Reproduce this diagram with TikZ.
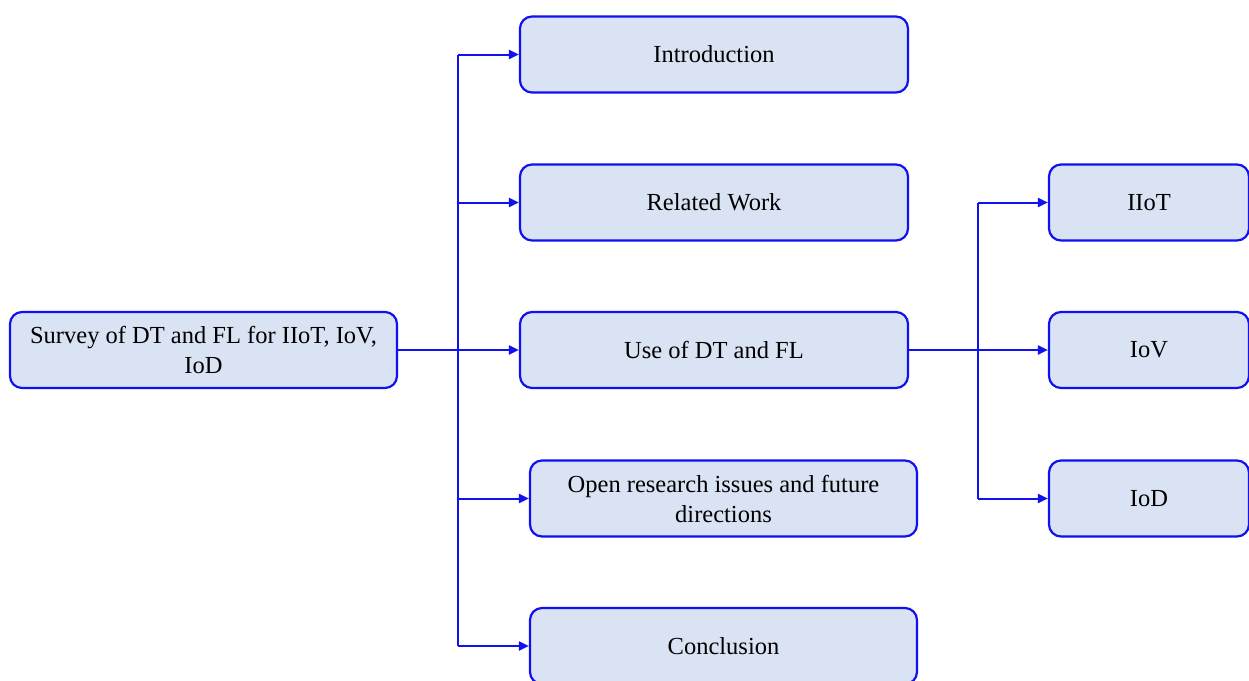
\documentclass[tikz,border=0pt]{standalone}
\usepackage{fontspec}
\setmainfont{Liberation Serif}
\usetikzlibrary{arrows.meta}
\definecolor{boxfill}{HTML}{DAE3F3}
\definecolor{boxline}{HTML}{1010F0}
\begin{document}
\begin{tikzpicture}[x=1pt,y=-1pt,
  box/.style={draw=boxline, fill=boxfill, line width=2.2pt, rounded corners=12pt,
    minimum height=76pt, align=center, font=\fontsize{24.5}{30}\selectfont, inner sep=0pt},
  conn/.style={draw=boxline, line width=2pt},
  arr/.style={conn, -{Triangle[length=10pt,width=9pt]}}]
\useasboundingbox (0,0) rectangle (1249,680);
\node[box, minimum width=387pt] (root) at (203.5,350) {Survey of DT and FL for IIoT, IoV,\\IoD};
\node[box, minimum width=388pt] (intro) at (714,54.5) {Introduction};
\node[box, minimum width=388pt] (rel) at (714,202.5) {Related Work};
\node[box, minimum width=388pt] (use) at (714,350) {Use of DT and FL};
\node[box, minimum width=387pt] (open) at (723.5,498.5) {Open research issues and future\\directions};
\node[box, minimum width=387pt] (conc) at (723.5,646) {Conclusion};
\node[box, minimum width=200pt] (iiot) at (1149,202.5) {IIoT};
\node[box, minimum width=200pt] (iov) at (1149,350) {IoV};
\node[box, minimum width=200pt] (iod) at (1149,498.5) {IoD};
\coordinate (t1) at (458,54.5);
\coordinate (t5) at (458,646);
\coordinate (r1) at (978,202.5);
\coordinate (r3) at (978,498.5);
\draw[conn] (t1) -- (t5);
\draw[arr] (root.east) -- (use.west);
\draw[arr] (t1) -- (intro.west);
\draw[arr] (458,202.5) -- (rel.west);
\draw[arr] (458,498.5) -- (open.west);
\draw[arr] (t5) -- (conc.west);
\draw[conn] (r1) -- (r3);
\draw[arr] (use.east) -- (iov.west);
\draw[arr] (r1) -- (iiot.west);
\draw[arr] (r3) -- (iod.west);
\end{tikzpicture}
\end{document}
